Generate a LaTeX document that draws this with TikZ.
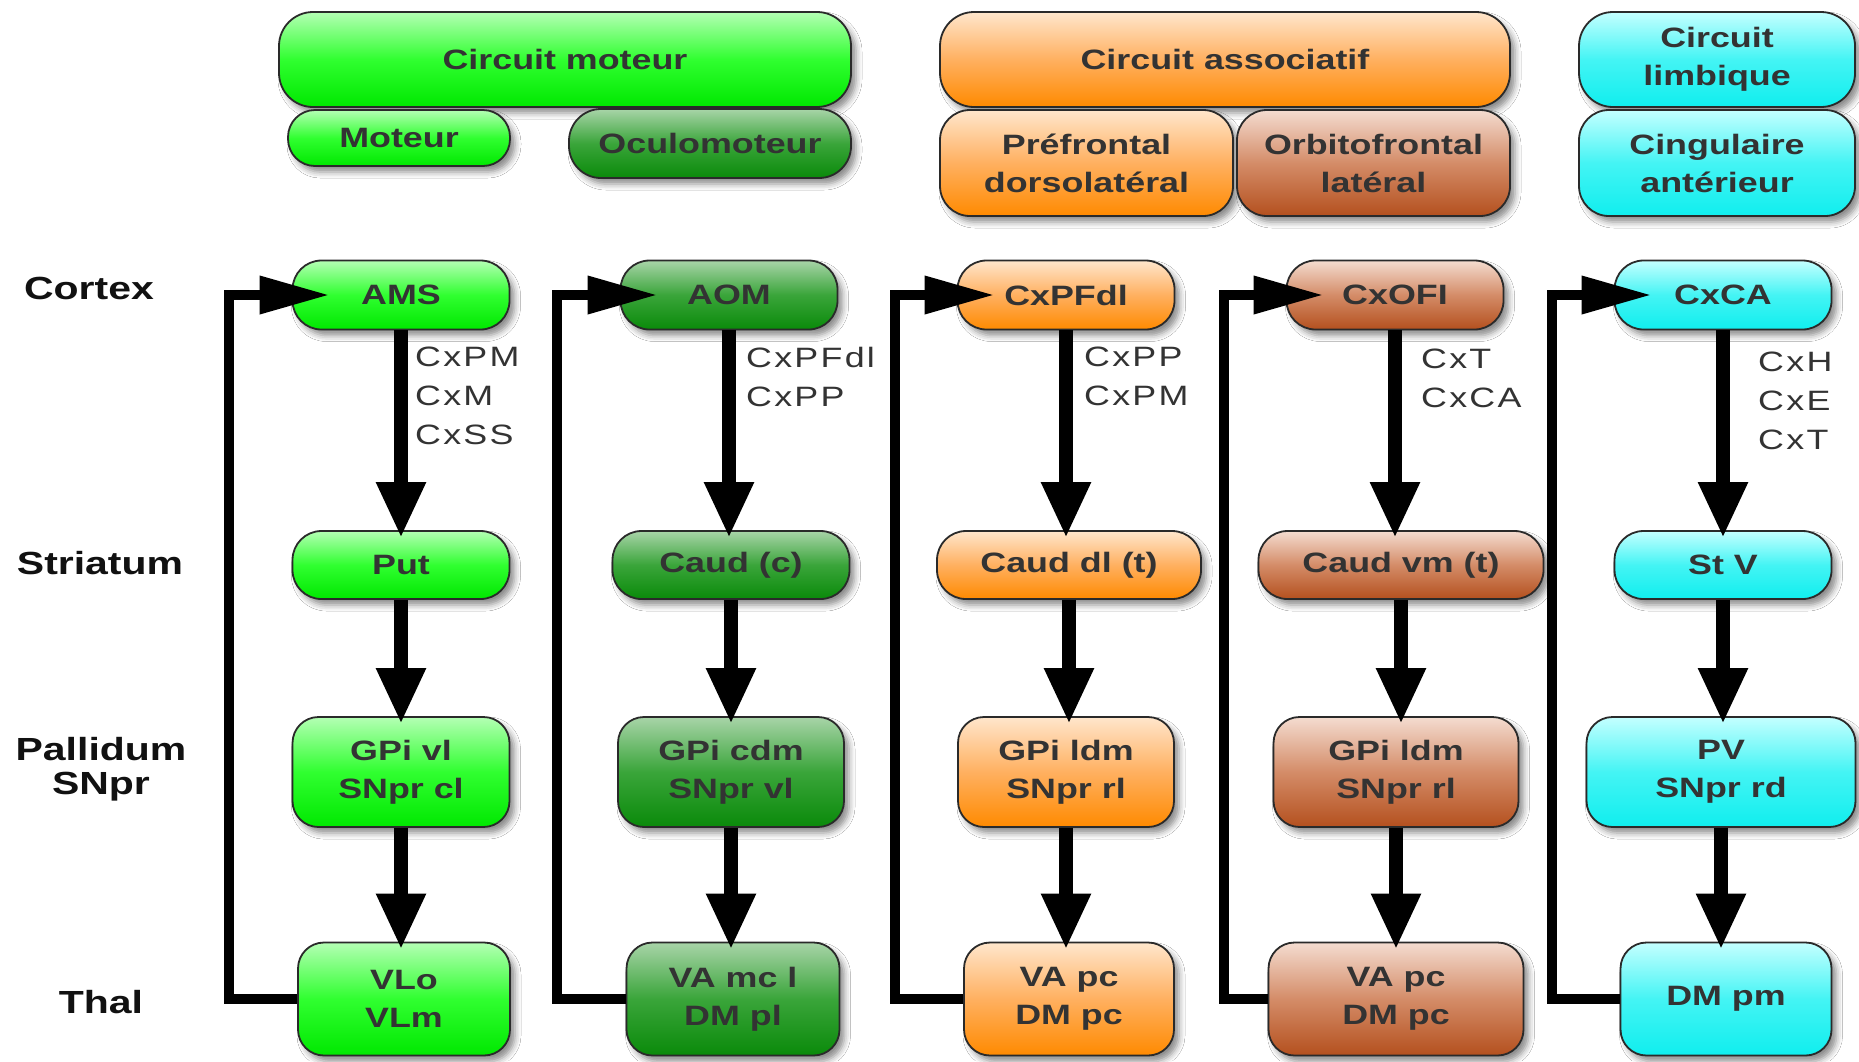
\documentclass[tikz,border=0pt]{standalone}
\usepackage{fontspec}
\usetikzlibrary{arrows.meta,shadows.blur}
\newfontfamily\bfont[FakeStretch=1.28]{Liberation Sans}
\newfontfamily\lfont[FakeStretch=1.28,LetterSpace=8]{Liberation Sans}
\definecolor{gtop}{HTML}{B4FFB4}\definecolor{gmid}{HTML}{30FF30}\definecolor{gbot}{HTML}{00E800}
\definecolor{dtop}{HTML}{A8D4A8}\definecolor{dmid}{HTML}{3AA53A}\definecolor{dbot}{HTML}{0A8A0A}
\definecolor{otop}{HTML}{FFE6CC}\definecolor{omid}{HTML}{FFB060}\definecolor{obot}{HTML}{FF8A00}
\definecolor{btop}{HTML}{F4DCD0}\definecolor{bmid}{HTML}{D48C68}\definecolor{bbot}{HTML}{B4501E}
\definecolor{ctop}{HTML}{C4FFFF}\definecolor{cmid}{HTML}{44F4F4}\definecolor{cbot}{HTML}{10EEEE}
\definecolor{boxline}{HTML}{2A2A2A}
\definecolor{txt}{HTML}{333333}
\definecolor{lbl}{HTML}{111111}
\begin{document}
\begin{tikzpicture}[x=1pt,y=-1pt,
  box/.style={draw=boxline, line width=1.8pt, align=center, inner sep=0pt, text=txt,
    font={\bfont\bfseries\fontsize{28}{38}\selectfont},
    blur shadow={shadow xshift=5pt, shadow yshift=-6pt, shadow blur radius=6pt, shadow opacity=45}},
  gre/.style={top color=gtop, bottom color=gbot, middle color=gmid},
  dgr/.style={top color=dtop, bottom color=dbot, middle color=dmid},
  ora/.style={top color=otop, bottom color=obot, middle color=omid},
  bro/.style={top color=btop, bottom color=bbot, middle color=bmid},
  cya/.style={top color=ctop, bottom color=cbot, middle color=cmid},
  pillA/.style={box, rounded corners=29pt, minimum height=69pt},
  pillB/.style={box, rounded corners=29pt, minimum height=68pt},
  rboxA/.style={box, rounded corners=26pt, minimum height=110pt},
  rboxB/.style={box, rounded corners=26pt, minimum height=113pt},
  topbox/.style={box, rounded corners=34pt},
  rowlabel/.style={align=center, inner sep=0pt, text=lbl, font={\bfont\bfseries\fontsize{32}{34}\selectfont}},
  edgelabel/.style={align=left, inner sep=0pt, anchor=north west, text=txt, font={\lfont\fontsize{28}{39}\selectfont}},
  darrow/.style={line width=14pt, draw=black, -{Triangle[width=46pt,length=56pt]}},
  loopline/.style={line width=10pt, draw=black, -{Triangle[width=36pt,length=70pt]}}
]
\fill[white] (0,0) rectangle (1859,1061);
\useasboundingbox (0,0) rectangle (1859,1061);

% top legend boxes
\node[topbox, gre, minimum width=572pt, minimum height=95pt] (cm) at (565,59.5) {Circuit moteur};
\node[box, gre, rounded corners=27pt, minimum width=222pt, minimum height=56pt] (mot) at (399,138) {Moteur};
\node[box, dgr, rounded corners=32pt, minimum width=282pt, minimum height=69pt] (ocu) at (710,143.5) {Oculomoteur};
\node[topbox, ora, minimum width=570pt, minimum height=95pt] (ca) at (1225,59.5) {Circuit associatif};
\node[topbox, ora, rounded corners=30pt, minimum width=293pt, minimum height=106pt] (pre) at (1086.5,163) {Préfrontal\\dorsolatéral};
\node[topbox, bro, rounded corners=30pt, minimum width=273pt, minimum height=106pt] (orb) at (1373.5,163) {Orbitofrontal\\latéral};
\node[topbox, cya, minimum width=276pt, minimum height=95pt] (cl) at (1717,59.5) {Circuit\\limbique};
\node[topbox, cya, rounded corners=30pt, minimum width=276pt, minimum height=106pt] (cing) at (1717,163) {Cingulaire\\antérieur};

% row labels
\node[rowlabel] (rc) at (89,288) {Cortex};
\node[rowlabel] (rs) at (100,563) {Striatum};
\node[rowlabel] (rp) at (101,769) {Pallidum\\SNpr};
\node[rowlabel] (rt) at (101,1002) {Thal};

% column 1
\node[pillA, gre, minimum width=217pt] (c1) at (401,295) {AMS};
\node[pillB, gre, minimum width=217pt] (s1) at (401,565) {Put};
\node[rboxA, gre, minimum width=217pt] (p1) at (401,772) {GPi vl\\SNpr cl};
\node[rboxB, gre, minimum width=212pt] (t1) at (404,999) {VLo\\VLm};
% column 2
\node[pillA, dgr, minimum width=217pt] (c2) at (729,295) {AOM};
\node[pillB, dgr, minimum width=237pt] (s2) at (731,565) {Caud (c)};
\node[rboxA, dgr, minimum width=226pt] (p2) at (731,772) {GPi cdm\\SNpr vl};
\node[rboxB, dgr, minimum width=213pt] (t2) at (733,999) {VA mc l\\DM pl};
% column 3
\node[pillA, ora, minimum width=217pt] (c3) at (1066,295) {CxPFdl};
\node[pillB, ora, minimum width=264pt] (s3) at (1069,565) {Caud dl (t)};
\node[rboxA, ora, minimum width=216pt] (p3) at (1066,772) {GPi ldm\\SNpr rl};
\node[rboxB, ora, minimum width=210pt] (t3) at (1069,999) {VA pc\\DM pc};
% column 4
\node[pillA, bro, minimum width=217pt] (c4) at (1395,295) {CxOFI};
\node[pillB, bro, minimum width=285pt] (s4) at (1401,565) {Caud vm (t)};
\node[rboxA, bro, minimum width=245pt] (p4) at (1396,772) {GPi ldm\\SNpr rl};
\node[rboxB, bro, minimum width=255pt] (t4) at (1396,999) {VA pc\\DM pc};
% column 5
\node[pillA, cya, minimum width=217pt] (c5) at (1723,295) {CxCA};
\node[pillB, cya, minimum width=217pt] (s5) at (1723,565) {St V};
\node[rboxA, cya, minimum width=269pt] (p5) at (1721,772) {PV\\SNpr rd};
\node[rboxB, cya, minimum width=211pt] (t5) at (1726,999) {DM pm};

% loop corner coordinates
\coordinate (k1) at (229,295);
\coordinate (k2) at (557,295);
\coordinate (k3) at (895,295);
\coordinate (k4) at (1224,295);
\coordinate (k5) at (1552,295);

% down arrows and feedback loops
\foreach \i in {1,...,5}{
  \draw[darrow] (c\i.south) -- ([yshift=-8pt]c\i.south |- s\i.north);
  \draw[darrow] (s\i.south) -- ([yshift=-8pt]s\i.south |- p\i.north);
  \draw[darrow] (p\i.south) -- ([yshift=-8pt]p\i.south |- t\i.north);
  \draw[loopline] (t\i.west) -| (k\i) -- ([xshift=38pt]c\i.west);
}

% edge labels
\node[edgelabel] (e1) at (415,347) {CxPM\\CxM\\CxSS};
\node[edgelabel] (e2) at (746,347) {CxPFdl\\CxPP};
\node[edgelabel] (e3) at (1084,347) {CxPP\\CxPM};
\node[edgelabel] (e4) at (1421,349) {CxT\\CxCA};
\node[edgelabel] (e5) at (1758,352) {CxH\\CxE\\CxT};
\end{tikzpicture}
\end{document}
